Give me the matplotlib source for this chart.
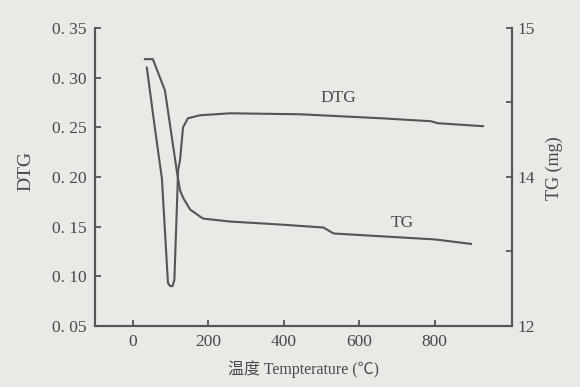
import numpy as np
import matplotlib
matplotlib.use("Agg")
import matplotlib.pyplot as plt

plt.rcParams['font.family'] = ['Liberation Serif', 'Noto Sans CJK SC', 'DejaVu Sans']

# DTG curve (left axis)
dtg_temp = [37, 57, 77, 93, 99, 105, 110, 120, 125, 133, 146, 178, 258, 444, 657, 790, 808, 928]
dtg_val = [0.310, 0.253, 0.198, 0.093, 0.090, 0.090, 0.096, 0.207, 0.217, 0.250, 0.259, 0.262,
           0.264, 0.263, 0.259, 0.256, 0.254, 0.251]

# TG curve (right axis)
tg_temp = [32, 53, 85, 117, 125, 133, 152, 186, 258, 391, 505, 532, 598, 801, 896]
tg_val = [14.79, 14.79, 14.58, 14.03, 13.91, 13.86, 13.78, 13.72, 13.70, 13.68, 13.66,
          13.62, 13.61, 13.58, 13.55]

x_ticks = [0, 200, 400, 600, 800]
left_ticks = [0.05, 0.10, 0.15, 0.20, 0.25, 0.30, 0.35]
left_labels = ['0. 05', '0. 10', '0. 15', '0. 20', '0. 25', '0. 30', '0. 35']
right_ticks = [13, 13.5, 14, 14.5, 15]
right_labels = ['12', '', '14', '', '15']

bg = '#e9e9e6'
ink = '#555555'
txt = '#484848'

fig = plt.figure(figsize=(5.8, 3.87), dpi=100, facecolor=bg)
ax = fig.add_axes([0.164, 0.158, 0.719, 0.770], facecolor=bg)
ax2 = ax.twinx()

ax.plot(dtg_temp, dtg_val, color=ink, lw=1.5)
ax2.plot(tg_temp, tg_val, color=ink, lw=1.5)

ax.set_xlim(-100, 1005)
ax.set_ylim(0.05, 0.35)
ax2.set_ylim(13, 15)

ax.set_xticks(x_ticks)
ax.set_yticks(left_ticks, labels=left_labels)
ax2.set_yticks(right_ticks, labels=right_labels)

for a in (ax, ax2):
    for s in a.spines.values():
        s.set_color(ink)
        s.set_linewidth(1.5)
    a.tick_params(direction='in', length=4, width=1.3, color=ink,
                  labelcolor=txt, labelsize=12.5)
ax.spines['top'].set_visible(False)
ax2.spines['top'].set_visible(False)
ax.tick_params(axis='y', pad=6)
ax.tick_params(axis='x', pad=6)
ax2.tick_params(axis='y', pad=4)

ax.set_ylabel('DTG', fontsize=14, color=txt)
ax.yaxis.set_label_coords(-0.146, 0.52)
ax2.set_ylabel('TG (mg)', fontsize=13, color=txt, rotation=90)
ax2.yaxis.set_label_coords(1.08, 0.53)
ax.set_xlabel('温度 Tempterature (℃)', fontsize=11.5, color=txt, labelpad=7)

ax.text(545, 0.279, 'DTG', fontsize=12.5, color=txt, ha='center', va='center')
ax.text(715, 0.154, 'TG', fontsize=12.5, color=txt, ha='center', va='center')

fig.savefig('out.png', dpi=100, facecolor=bg)
